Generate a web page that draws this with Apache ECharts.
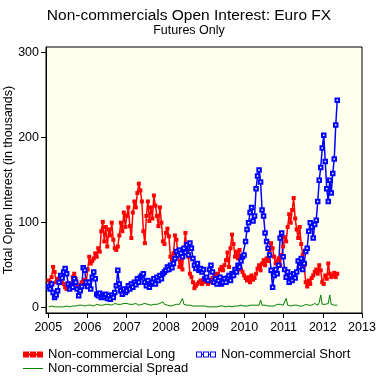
<!DOCTYPE html>
<html>
<head>
<meta charset="utf-8">
<script src="https://cdn.jsdelivr.net/npm/echarts@6/dist/echarts.min.js"></script>
<style>html,body{margin:0;padding:0;background:#fff}#c{width:378px;height:378px}</style>
</head>
<body>
<div id="c"></div>
<script>
// ---- data (biweekly report dates starting 2005-01-04) ----
const startDate = '2005-01-04';
const stepDays = 14;
const longVals = [
  32,30,36,48,42,30,34,29,33,36,28,24,22,26,23,24,36,40,34,24,22,27,30,28,33,30,
  45,60,52,55,58,64,60,70,66,90,101,78,95,72,92,85,100,80,70,68,72,85,100,90,112,95,
  108,118,96,82,112,125,118,135,146,138,125,90,76,108,125,102,118,105,132,120,108,96,118,100,78,75,
  88,93,84,60,56,64,85,80,62,48,55,45,70,88,65,60,40,36,30,23,26,28,30,32,28,33,
  30,34,28,32,30,35,34,38,40,36,45,48,44,50,56,65,48,70,86,75,60,66,58,68,45,42,
  38,35,32,36,30,38,33,35,40,46,50,44,52,56,50,58,55,68,76,70,60,52,55,58,50,62,
  72,83,78,95,110,100,115,129,105,92,82,95,75,62,50,30,25,32,28,35,38,42,45,40,50,44,
  30,28,38,34,52,40,36,38,41,36,40
];
const shortVals = [
  25,22,28,18,12,15,20,30,38,35,42,46,40,28,22,26,24,34,30,22,14,20,25,47,44,30,
  25,30,22,36,42,34,16,14,17,12,15,13,16,11,14,10,15,12,18,26,44,28,20,16,22,18,
  20,26,22,28,24,30,27,34,30,36,38,40,30,26,32,24,28,30,34,28,36,32,38,34,40,42,
  44,48,45,50,47,52,58,66,62,68,64,60,70,65,74,62,76,70,58,50,46,52,44,46,42,45,
  34,36,32,45,50,42,30,34,28,32,36,28,30,34,30,35,38,32,40,38,45,42,50,48,55,60,
  62,78,92,100,112,118,102,108,140,155,162,148,115,108,88,78,70,62,44,24,38,45,40,50,82,88,
  60,45,36,42,30,38,32,40,35,42,55,48,58,45,52,66,70,90,100,95,82,98,103,125,150,165,
  188,203,172,140,125,150,135,158,175,215,244
];
const spreadVals = [
  1,1,2,1,1,2,1,1,1,2,1,1,2,2,1,2,2,3,2,2,3,2,3,3,2,3,
  3,2,3,3,2,3,4,3,3,4,3,3,4,5,4,4,3,4,5,4,4,6,4,5,5,4,
  5,4,4,3,4,4,5,3,3,4,4,3,5,4,4,6,3,4,4,3,4,3,5,4,7,4,
  4,3,3,2,2,3,3,4,3,4,3,11,4,3,3,2,3,2,2,3,2,2,2,1,2,2,
  2,1,1,2,1,1,1,2,1,1,2,1,2,2,1,1,2,1,1,2,2,1,2,2,3,2,
  2,3,2,2,3,2,3,2,3,4,3,9,3,2,3,2,2,3,2,3,2,3,4,3,4,5,
  3,4,11,3,3,2,2,3,2,3,2,2,3,2,3,4,3,3,2,3,4,5,5,3,6,15,
  4,5,4,4,5,15,4,3,3,4,3
];
const yearTicks = [2005,2006,2007,2008,2009,2010,2011,2012,2013];
const yTicks = [0,100,200,300];
const seriesNames = ['Non-commercial Long','Non-commercial Short','Non-commercial Spread'];

// ---- helpers ----
const t0 = Date.parse(startDate + 'T00:00:00Z');
function decYear(ms){
  const d = new Date(ms); const y = d.getUTCFullYear();
  const s = Date.UTC(y,0,1), e = Date.UTC(y+1,0,1);
  return y + (ms - s) / (e - s);
}
function toPairs(vals){
  return vals.map((v,i)=>[decYear(t0 + i*stepDays*86400000), v]);
}

const FONT = 'Liberation Sans, Arial, sans-serif';
const txt = {color:'#000', fontFamily: FONT, fontSize: 12.5};

const longIcon = 'path://M0,0h6v6h-6z M7,0h6v6h-6z M14,0h6v6h-6z M5,2h10v2h-10z';
const shortIcon = 'path://M0,0h6v6h-6z M1,1v4h4v-4z M7,0h6v6h-6z M8,1v4h4v-4z M14,0h6v6h-6z M15,1v4h4v-4z M6,2.5h1v1h-1z M13,2.5h1v1h-1z';
const spreadIcon = 'path://M0,0h20v1h-20z';

const chart = echarts.init(document.getElementById('c'), null, {renderer:'canvas'});
chart.setOption({
  animation: false,
  backgroundColor: '#fff',
  title: [
    {text: 'Non-commercials Open Interest: Euro FX', left: 'center', top: 3,
     textStyle: {fontFamily: FONT, fontSize: 15.5, fontWeight: 'normal', color: '#000'}},
    {text: 'Futures Only', left: 'center', top: 19.5,
     textStyle: {fontFamily: FONT, fontSize: 12.5, fontWeight: 'normal', color: '#000'}}
  ],
  grid: {left: 46, right: 16, top: 47, bottom: 65, show: true, outerBoundsMode: 'none',
         backgroundColor: '#FFFFF0', borderColor: '#000', borderWidth: 1, containLabel: false},
  xAxis: {
    type: 'value', min: 2005 - 2.3/39.25, max: 2013,
    axisLine: {show: true, onZero: false, lineStyle: {color: '#000', width: 1}},
    axisTick: {show: true, length: 5, lineStyle: {color: '#000'}, customValues: yearTicks},
    axisLabel: {customValues: yearTicks, margin: 8, formatter: v => String(v), ...txt},
    splitLine: {show: false}
  },
  yAxis: {
    type: 'value', min: -6.2, max: 306.7,
    name: 'Total Open Interest (in thousands)', nameLocation: 'middle', nameGap: 31,
    nameMoveOverlap: false,
    nameTextStyle: {...txt},
    axisLine: {show: true, lineStyle: {color: '#000', width: 1}},
    axisTick: {show: true, length: 5, lineStyle: {color: '#000'}, customValues: yTicks},
    axisLabel: {customValues: yTicks, margin: 7, ...txt},
    splitLine: {show: false}
  },
  legend: [
    {data: [seriesNames[0]], left: 18, top: 343, itemWidth: 20, itemHeight: 6, icon: longIcon,
     selectedMode: false, textStyle: {...txt, fontSize: 13}, itemStyle: {color: '#FF0000', borderWidth: 0}},
    {data: [seriesNames[1]], left: 191, top: 343, itemWidth: 20, itemHeight: 6, icon: shortIcon,
     selectedMode: false, textStyle: {...txt, fontSize: 13}, itemStyle: {color: '#0000FF', borderWidth: 0}},
    {data: [seriesNames[2]], left: 18, top: 357, itemWidth: 20, itemHeight: 1, icon: spreadIcon,
     selectedMode: false, textStyle: {...txt, fontSize: 13}, itemStyle: {color: '#008000', borderWidth: 0}}
  ],
  series: [
    {name: seriesNames[0], type: 'line', data: toPairs(longVals),
     symbol: 'rect', symbolSize: 4, showAllSymbol: true,
     lineStyle: {color: '#FF0000', width: 1.5}, itemStyle: {color: '#FF0000'}},
    {name: seriesNames[1], type: 'line', data: toPairs(shortVals),
     symbol: 'emptyRect', symbolSize: 3.5, showAllSymbol: true,
     lineStyle: {color: '#0000FF', width: 1.5}, itemStyle: {color: '#0000FF', borderWidth: 1}},
    {name: seriesNames[2], type: 'line', data: toPairs(spreadVals),
     symbol: 'none', lineStyle: {color: '#008000', width: 1}, itemStyle: {color: '#008000'}}
  ]
});
</script>
</body>
</html>
